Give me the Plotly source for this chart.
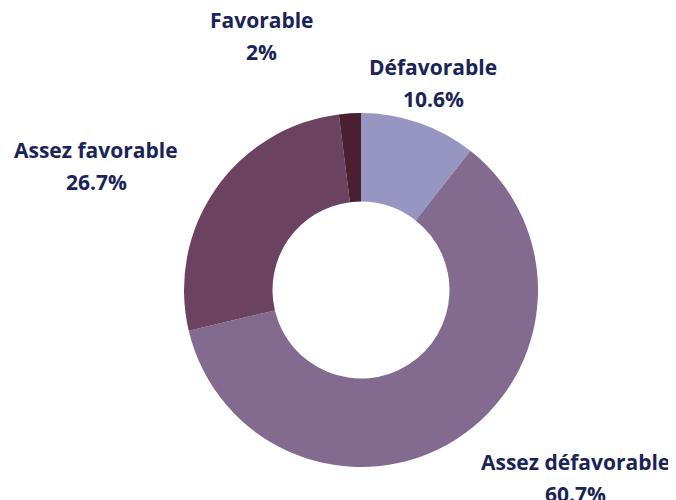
import plotly.graph_objects as go

categories = ["Défavorable", "Assez défavorable", "Assez favorable", "Favorable"]
values = [10.6, 60.7, 26.7, 2]
value_labels = ["10.6%", "60.7%", "26.7%", "2%"]
colors = ["#9795c2", "#836a8f", "#6b425f", "#4a1f30"]

# label anchor positions in pixels (center x, first-line y from top)
label_pos = [(433, 67), (575, 462), (96, 150), (262, 20)]

W, H = 676, 500
OFF = 8  # page body margin
cx, cy, R = 361 - OFF, 290 - OFF, 177

fig = go.Figure(go.Pie(
    labels=categories,
    values=values,
    sort=False,
    direction="clockwise",
    rotation=0,
    hole=0.5,
    marker=dict(colors=colors, line=dict(width=0)),
    textinfo="none",
    hoverinfo="label+percent",
    domain=dict(x=[(cx - R) / W, (cx + R) / W], y=[(H - cy - R) / H, (H - cy + R) / H]),
    showlegend=False,
))

font = dict(family="Open Sans", size=21, color="#1a2456")
anns = []
for cat, vl, (px, py) in zip(categories, value_labels, label_pos):
    px, py = px - OFF, py - OFF
    anns.append(dict(x=px / W, y=1 - py / H, xref="paper", yref="paper", text="<b>%s</b>" % cat,
                     showarrow=False, font=font, xanchor="center", yanchor="middle"))
    anns.append(dict(x=px / W, y=1 - (py + 32) / H, xref="paper", yref="paper", text="<b>%s</b>" % vl,
                     showarrow=False, font=font, xanchor="center", yanchor="middle"))

fig.update_layout(
    width=W, height=H,
    margin=dict(l=0, r=0, t=0, b=0),
    paper_bgcolor="white",
    plot_bgcolor="white",
    annotations=anns,
)

fig.write_html("out.html")
